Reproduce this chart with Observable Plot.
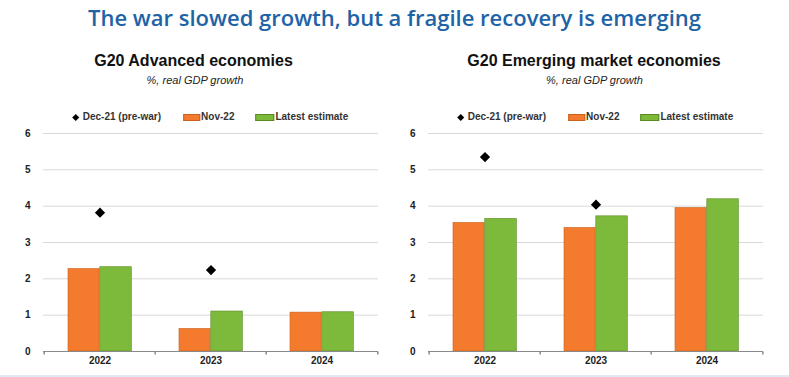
<!DOCTYPE html>
<html><head><meta charset="utf-8">
<script src="https://cdn.jsdelivr.net/npm/d3@7"></script>
<script src="https://cdn.jsdelivr.net/npm/@observablehq/plot@0.6"></script>
<style>
body{margin:0;background:#fff;}
#root{position:relative;width:789px;height:377px;overflow:hidden;background:#fff;}
.abs{position:absolute;white-space:nowrap;}
#title{left:0;width:789px;top:6px;text-align:center;font-family:"Open Sans",sans-serif;font-weight:600;font-size:22px;line-height:22px;color:#1d63a6;}
.ptitle{font-family:"Liberation Sans",Arial,sans-serif;font-weight:bold;font-size:16px;line-height:16px;color:#111;text-align:center;top:53px;}
.psub{font-family:"Liberation Sans",Arial,sans-serif;font-style:italic;font-size:11px;line-height:11px;color:#222;text-align:center;top:75px;}
.legend{display:flex;align-items:center;font-family:"Liberation Sans Narrow","Arial Narrow","Liberation Sans",sans-serif;font-weight:bold;font-size:10px;line-height:10px;color:#333;top:112px;transform:translateX(-50%);}
.legend .it{display:flex;align-items:center;}
.legend .sw{display:inline-block;width:15px;height:5px;margin-right:1px;}
.legend .dm{display:inline-block;width:5px;height:5px;background:#000;transform:rotate(45deg);margin-right:5px;}
#bottomline{left:0;top:375px;width:789px;height:2px;background:#e2e9f2;}
</style></head><body><div id="root"></div>
<script>
// ---- data ----
const years = ["2022", "2023", "2024"];
const seriesNames = ["Dec-21 (pre-war)", "Nov-22", "Latest estimate"];
const advDec21 = [3.82, 2.24, null];
const advNov22 = [2.27, 0.62, 1.07];
const advLatest = [2.32, 1.10, 1.08];
const emeDec21 = [5.35, 4.04, null];
const emeNov22 = [3.54, 3.40, 3.95];
const emeLatest = [3.65, 3.72, 4.19];
const yTicks = [0, 1, 2, 3, 4, 5, 6];
const mainTitle = "The war slowed growth, but a fragile recovery is emerging";
const panelTitles = ["G20 Advanced economies", "G20 Emerging market economies"];
const subtitle = "%, real GDP growth";

const ORANGE = "#f47a2e", ORANGE_S = "#c9621f";
const GREEN = "#7dba3b", GREEN_S = "#5b8a24";

const root = document.getElementById("root");
function div(cls, text, style) {
  const d = document.createElement("div");
  d.className = "abs " + cls;
  if (text != null) d.textContent = text;
  Object.assign(d.style, style || {});
  root.appendChild(d);
  return d;
}

const t = div("", mainTitle); t.id = "title";

const W = 394, ML = 43, MR = 16, H = 253, MT = 13, MB = 22;
const plotCenter = ML + (W - ML - MR) / 2;

function panel(dec, nov, latest) {
  const step = (W - ML - MR) / years.length;
  const rows = years.map((y, i) => ({year: y, dec: dec[i], nov: nov[i], latest: latest[i]}));
  const tickSym = {draw(ctx, size) { ctx.moveTo(0, 0); ctx.lineTo(0, 3); }};
  const font = '"Liberation Sans Narrow","Arial Narrow","Liberation Sans",sans-serif';
  return Plot.plot({
    width: W, height: H, marginLeft: ML, marginRight: MR, marginTop: MT, marginBottom: MB,
    style: {fontFamily: font, fontSize: "10px", fontWeight: "bold", color: "#222", background: "transparent", overflow: "visible"},
    x: {domain: years, padding: 0, label: null, tickSize: 0, tickPadding: 5},
    y: {domain: [0, 6], ticks: yTicks, tickFormat: "d", label: null, tickSize: 0, tickPadding: 13},
    marks: [
      Plot.ruleY(yTicks.filter(v => v > 0), {stroke: "#d9d9d9", strokeWidth: 1}),
      Plot.barY(rows, {x: "year", y: "nov", fill: ORANGE, stroke: ORANGE_S, strokeWidth: 0.6,
        insetLeft: 24, insetRight: step - 55.8}),
      Plot.barY(rows, {x: "year", y: "latest", fill: GREEN, stroke: GREEN_S, strokeWidth: 0.6,
        insetLeft: 55.8, insetRight: step - 88}),
      Plot.ruleY([0], {stroke: "#8a8a8a", strokeWidth: 1}),
      Plot.dot(years, {x: d => d, y: () => 0, symbol: tickSym, r: 3, fill: "none", stroke: "#8a8a8a", dx: -step / 2}),
      Plot.dot(years.slice(-1), {x: d => d, y: () => 0, symbol: tickSym, r: 3, fill: "none", stroke: "#8a8a8a", dx: step / 2}),
      Plot.dot(rows.filter(d => d.dec != null), {x: "year", y: "dec", symbol: "diamond2", r: 4.6, fill: "#000", stroke: "none"})
    ]
  });
}

function legend(cx) {
  const lg = div("legend", null, {left: cx + "px"});
  lg.innerHTML =
    `<span class="it"><span class="dm"></span>${seriesNames[0]}</span>` +
    `<span class="it" style="margin-left:22px"><span class="sw" style="background:${ORANGE};border:0.5px solid ${ORANGE_S}"></span>${seriesNames[1]}</span>` +
    `<span class="it" style="margin-left:21px"><span class="sw" style="background:${GREEN};border:0.5px solid ${GREEN_S};width:17px"></span>${seriesNames[2]}</span>`;
}

const offsets = [0, 385];
const datasets = [[advDec21, advNov22, advLatest], [emeDec21, emeNov22, emeLatest]];
const titleBoxes = [{left: 0, width: 387}, {left: 400, width: 388}];
const subBoxes = [{left: 0, width: 390}, {left: 400, width: 389}];

datasets.forEach((ds, i) => {
  div("ptitle", panelTitles[i], {left: titleBoxes[i].left + "px", width: titleBoxes[i].width + "px"});
  div("psub", subtitle, {left: subBoxes[i].left + "px", width: subBoxes[i].width + "px"});
  const holder = div("", null, {left: offsets[i] + "px", top: "120px"});
  holder.appendChild(panel(...ds));
  legend(offsets[i] + plotCenter);
});
const bl = div("", null); bl.id = "bottomline";
</script></body></html>
